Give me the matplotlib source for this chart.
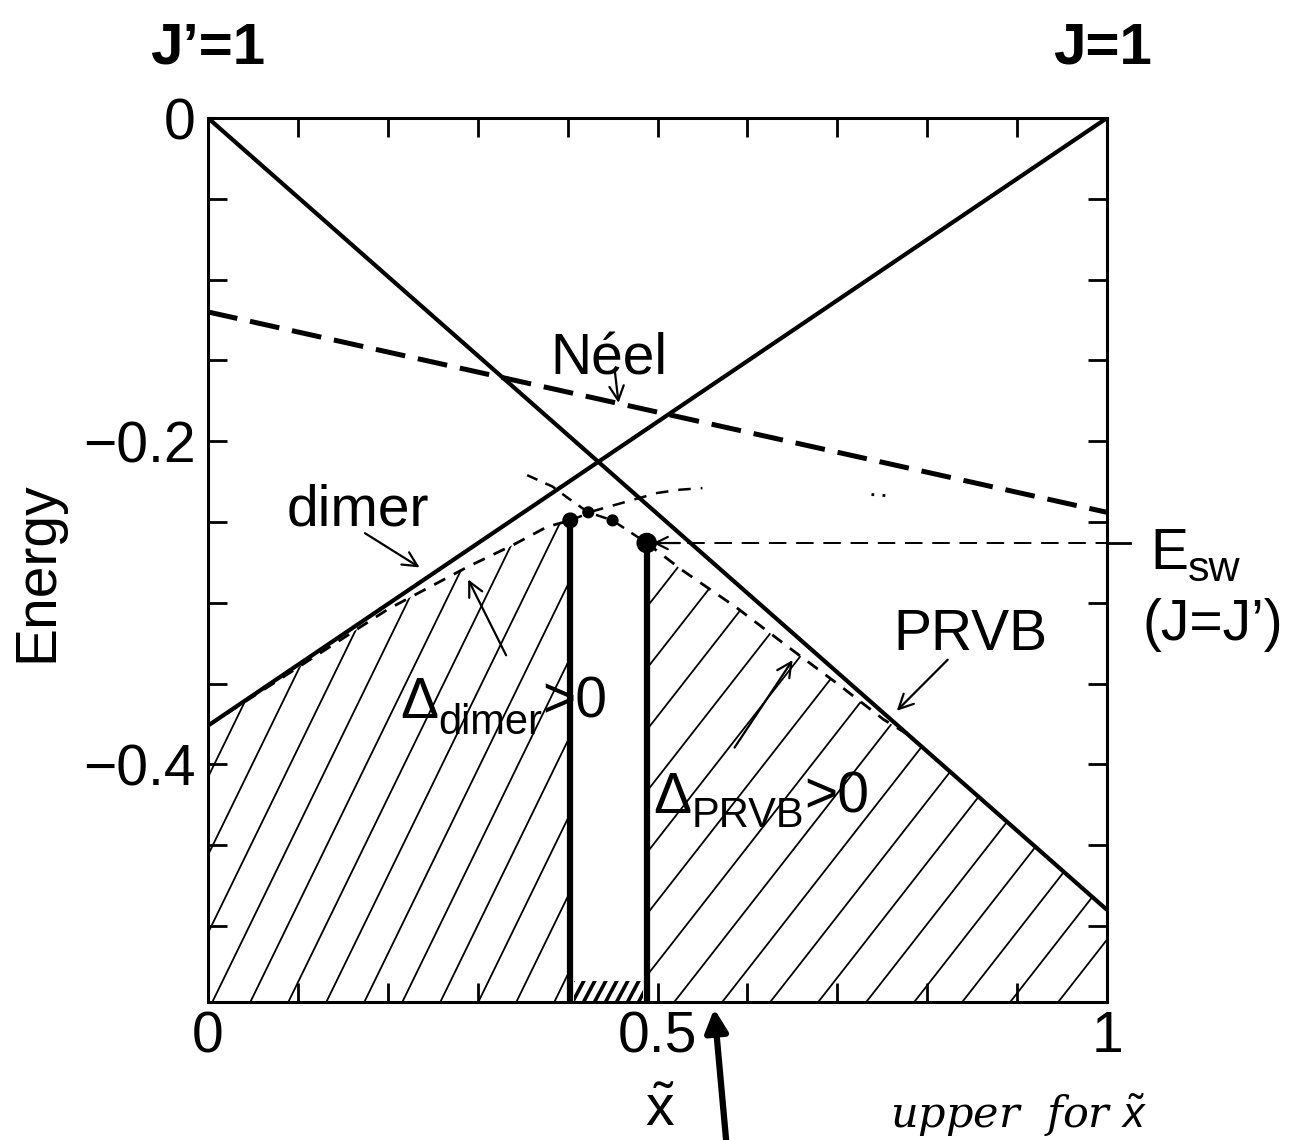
import numpy as np
import matplotlib
matplotlib.use("Agg")
import matplotlib.pyplot as plt
from matplotlib.collections import LineCollection
from matplotlib.patches import Polygon
from matplotlib.transforms import IdentityTransform

plt.rcParams['font.family'] = ['Liberation Sans', 'DejaVu Sans']
plt.rcParams['mathtext.fontset'] = 'custom'
plt.rcParams['mathtext.rm'] = 'Liberation Sans'
plt.rcParams['mathtext.sf'] = 'Liberation Sans'
plt.rcParams['mathtext.it'] = 'Liberation Sans:italic'

# straight-line variational energies vs x~
x_ends = [0.0, 1.0]
e_prvb = [0.0, -0.49]
e_dimer = [-0.376, 0.0]
e_neel = [-0.120, -0.244]
e_sw = -0.263

# lower bounds (thin dashed)
dimer_lb_x = [0.0, 0.10, 0.20, 0.288, 0.34, 0.377, 0.403]
dimer_lb_e = [-0.376, -0.340, -0.304, -0.278, -0.264, -0.253, -0.249]
prvb_lb_x = [0.488, 0.528, 0.588, 0.647, 0.700, 0.751, 0.780, 1.0]
prvb_lb_e = [-0.263, -0.280, -0.303, -0.328, -0.350, -0.372, -0.382, -0.49]

# continuations of the bounds past the crossing
prvb_ext_x = [0.355, 0.383, 0.400, 0.423, 0.450, 0.488]
prvb_ext_e = [-0.221, -0.228, -0.235, -0.244, -0.249, -0.263]
dimer_ext_x = [0.403, 0.430, 0.449, 0.500, 0.525, 0.550]
dimer_ext_e = [-0.249, -0.243, -0.240, -0.232, -0.230, -0.229]
dimer_tail_x = [0.738, 0.762]
dimer_tail_e = [-0.233, -0.234]

# computed points
dots_x = [0.403, 0.423, 0.450, 0.488]
dots_e = [-0.249, -0.244, -0.249, -0.263]
dots_size = [110, 60, 60, 190]

YMIN, YMAX = -0.547, 0.0

fig = plt.figure(figsize=(12.95, 11.4), dpi=100)
ax = fig.add_axes([208 / 1295, 1 - 1002 / 1140, 899 / 1295, 884 / 1140])
ax.set_xlim(0, 1)
ax.set_ylim(YMIN, YMAX)
renderer = fig.canvas.get_renderer()

# pixels per data unit, used to lay out the hand-style hatching
p0 = ax.transData.transform((0, YMIN))
p1 = ax.transData.transform((1, YMAX))
sx = (p1[0] - p0[0])
sy = (p1[1] - p0[1]) / (YMAX - YMIN)


def hatch(verts, angle, spacing_px, lw):
    poly = Polygon(verts, closed=True, fill=False, edgecolor='none')
    ax.add_patch(poly)
    m = np.tan(np.radians(angle)) * sx / sy
    h = 0.7
    xs = np.arange(-h / m - 0.1, 1.1, spacing_px / sx)
    segs = [[(c, YMIN), (c + h / m, YMIN + h)] for c in xs]
    lc = LineCollection(segs, colors='black', linewidths=lw)
    ax.add_collection(lc)
    lc.set_clip_path(poly)


def chain(x, y, parts):
    # pieces of a label set one after another, each (text, size, drop in px)
    px, py = ax.transData.transform((x, y))
    for s, size, drop in parts:
        t = fig.text(px, py - drop, s, fontsize=size, ha='left', va='baseline',
                     transform=IdentityTransform())
        px = t.get_window_extent(renderer).x1


left_region = ([(0.0, YMIN)] + list(zip(dimer_lb_x, dimer_lb_e))
               + [(dimer_lb_x[-1], YMIN)])
right_region = ([(prvb_lb_x[0], YMIN)] + list(zip(prvb_lb_x, prvb_lb_e))
                + [(1.0, YMIN)])
gap_strip = [(dots_x[0] + 0.004, YMIN), (dots_x[0] + 0.004, YMIN + 0.013),
             (dots_x[-1] - 0.004, YMIN + 0.013), (dots_x[-1] - 0.004, YMIN)]
hatch(left_region, 64, 38, 1.3)
hatch(right_region, 52, 48, 1.3)
hatch(gap_strip, 62, 11, 2.6)

# main lines
ax.plot(x_ends, e_prvb, color='black', lw=3.0, solid_capstyle='butt')
ax.plot(x_ends, e_dimer, color='black', lw=3.0, solid_capstyle='butt')
ax.plot(x_ends, e_neel, color='black', lw=3.6, dashes=(6, 2.6))

ax.plot(dimer_lb_x, dimer_lb_e, color='black', lw=2.0, dashes=(4.5, 3.5))
ax.plot(prvb_lb_x[:7], prvb_lb_e[:7], color='black', lw=2.0, dashes=(4.5, 3.5))
ax.plot(prvb_ext_x, prvb_ext_e, color='black', lw=1.8, dashes=(4.5, 3.5))
ax.plot(dimer_ext_x, dimer_ext_e, color='black', lw=1.8, dashes=(5, 4))
ax.plot(dimer_tail_x, dimer_tail_e, color='black', lw=2.0, dashes=(1, 3))

# spin-wave energy at J = J'
ax.plot([dots_x[-1] + 0.015, 1.0], [e_sw, e_sw], color='black', lw=1.4,
        dashes=(9, 5))
ax.annotate('', xy=(dots_x[-1] + 0.004, e_sw), xytext=(dots_x[-1] + 0.04, e_sw),
            arrowprops=dict(arrowstyle='->', lw=1.6, mutation_scale=22))
ax.plot([1.0, 1.026], [e_sw, e_sw], color='black', lw=2.0, clip_on=False)

# gap window bounded by the two vertical bars
ax.vlines([dots_x[0], dots_x[-1]], YMIN, [dots_e[0], dots_e[-1]],
          color='black', lw=4.5)
ax.scatter(dots_x, dots_e, s=dots_size, color='black', zorder=5)

# axes styling
for sp in ax.spines.values():
    sp.set_linewidth(2.2)
ax.set_xticks([0, 0.5, 1])
ax.set_xticklabels(['0', '0.5', '1'])
ax.set_xticks(np.arange(0, 1.01, 0.1), minor=True)
ax.set_yticks([0, -0.2, -0.4])
ax.set_yticklabels(['0', '\u22120.2', '\u22120.4'])
ax.set_yticks(np.arange(-0.5, 0.01, 0.05), minor=True)
ax.tick_params(which='both', direction='in', top=True, right=True,
               length=14, width=2.0, labelsize=41)
ax.tick_params(axis='x', pad=6)
ax.tick_params(axis='y', pad=9)

fig.text(37 / 1295, 1 - 572 / 1140, 'Energy', rotation=90, fontsize=41,
         ha='center', va='center')
ax.text(0.503, YMIN - 0.077, r'$\tilde{\mathsf{x}}$', fontsize=41,
        ha='center', va='baseline', clip_on=False)

# coupling labels at the two ends
ax.text(0.0, 1.062, 'J\u2019=1', transform=ax.get_xaxis_transform(),
        fontsize=42, fontweight='bold', ha='center', va='baseline')
ax.text(0.995, 1.062, 'J=1', transform=ax.get_xaxis_transform(),
        fontsize=42, fontweight='bold', ha='center', va='baseline')

# curve labels
lab = dict(fontsize=41, va='baseline', color='black')
ax.text(0.446, -0.159, 'N\u00e9el', ha='center', **lab)
ax.text(0.088, -0.252, 'dimer', ha='left', **lab)
ax.text(0.762, -0.329, 'PRVB', ha='left', **lab)
chain(1.048, -0.279, [('E', 41, 0), ('sw', 31, 12)])
ax.text(1.118, -0.323, '(J=J\u2019)', ha='center', clip_on=False, **lab)
chain(0.2136, -0.371, [('\u0394', 41, 0), ('dimer', 30, 16), ('>0', 41, 0)])
chain(0.495, -0.430, [('\u0394', 41, 0), ('PRVB', 30, 14), ('>0', 41, 0)])

arrow = dict(arrowstyle='->', lw=1.6, mutation_scale=26, color='black')
ax.annotate('', xy=(0.457, -0.178), xytext=(0.452, -0.154), arrowprops=arrow)
ax.annotate('', xy=(0.238, -0.279), xytext=(0.172, -0.256), arrowprops=arrow)
ax.annotate('', xy=(0.288, -0.284), xytext=(0.333, -0.334), arrowprops=arrow)
ax.annotate('', xy=(0.652, -0.334), xytext=(0.584, -0.391), arrowprops=arrow)
ax.annotate('', xy=(0.764, -0.368), xytext=(0.825, -0.334), arrowprops=arrow)

# pen note under the axis
ax.annotate('', xy=(714, 134), xytext=(727, -10), xycoords='figure pixels',
            textcoords='figure pixels', annotation_clip=False,
            arrowprops=dict(arrowstyle='-|>', lw=4.5, mutation_scale=34,
                            color='black'))
fig.text(890 / 1295, 12 / 1140, r'upper  for $\tilde{x}$', fontsize=31,
         family='DejaVu Serif', style='italic', va='baseline')

fig.savefig('out.png', dpi=100)
